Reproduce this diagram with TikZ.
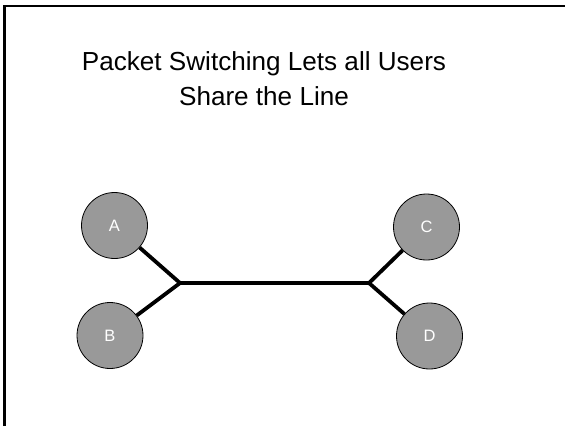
\documentclass[tikz,border=0pt]{standalone}
\usepackage{fontspec}
\setmainfont{Liberation Sans}
\usepackage{tikz}

\tikzset{
  user/.style={circle, draw=black, line width=0.8pt, fill=black!40, minimum size=66pt, inner sep=0pt, text=white, font=\fontsize{16.5}{18}\selectfont},
  link/.style={line width=3.8pt}
}

\begin{document}
\begin{tikzpicture}[x=1pt, y=-1pt]
\useasboundingbox (0,0) rectangle (565,426);

%% frame
\draw[line width=2.6pt] (4.7,426) -- (4.7,6) -- (565,6);

%% title
\node[align=center, font=\fontsize{26.1}{35}\selectfont] (title) at (264,79) {Packet Switching Lets all Users\\Share the Line};

%% users
\node[user] (A) at (114.5,225.5) {A};
\node[user] (B) at (110,335.5) {B};
\node[user] (C) at (426.5,227) {C};
\node[user] (D) at (429.5,336) {D};

%% junctions
\coordinate (left) at (180,283);
\coordinate (right) at (369,283);

%% lines
\draw[link] (A) -- (left);     %% a
\draw[link] (B) -- (left);     %% b
\draw[link] (left) -- (right); %% shared line
\draw[link] (C) -- (right);    %% c
\draw[link] (D) -- (right);    %% d
\end{tikzpicture}
\end{document}
